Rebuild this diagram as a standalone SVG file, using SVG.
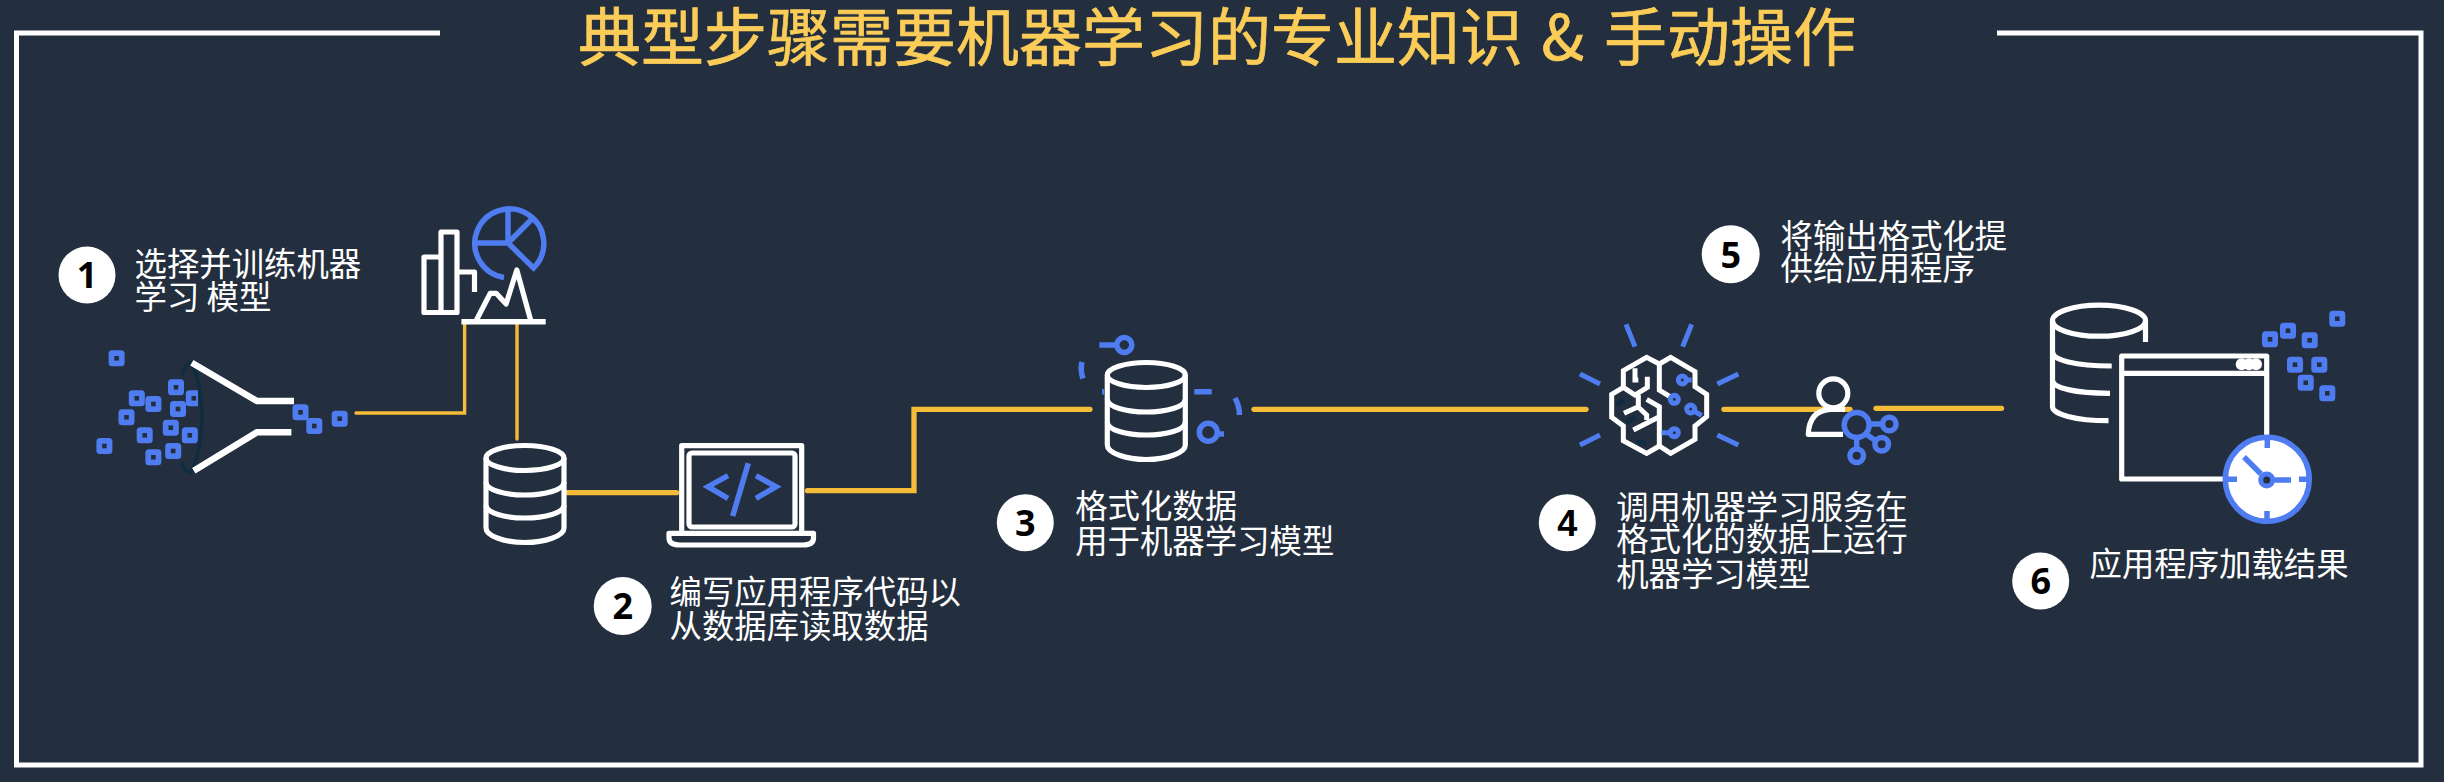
<svg xmlns="http://www.w3.org/2000/svg" width="2444" height="782" viewBox="0 0 2444 782">
<style>
.frame{fill:none;stroke:#fff;stroke-width:5}
.conn{fill:none;stroke:#f5bc3a;stroke-linecap:round;stroke-linejoin:miter}
.w{fill:none;stroke:#fff;stroke-width:5.2;stroke-linejoin:round}
.b{fill:none;stroke:#4f7cf0;stroke-width:5.5}
.w15{stroke-width:15;stroke-linejoin:miter}
.b15{stroke-width:15}
.dk{fill:none;stroke:#0f2d42}
.badge{fill:#fff}
.num{font-family:"Noto Sans","Open Sans",sans-serif;font-weight:700;font-size:36px;fill:#000;text-anchor:middle}
.lbl{font-family:"Noto Sans CJK SC","Noto Sans",sans-serif;font-size:32.4px;fill:#fff}
.title{font-family:"Noto Sans CJK SC","Noto Sans",sans-serif;font-size:63px;fill:#fbcd58;stroke:#fbcd58;stroke-width:0.7}
</style>
<defs>
<g id="bit"><rect x="-8" y="-8" width="16" height="16" rx="3.5" fill="#4f7cf0"/><rect x="-2.3" y="-2.3" width="4.6" height="4.6" fill="#232f3e"/></g>
<g id="db" class="w">
<ellipse cx="0" cy="0" rx="39" ry="12.5"/>
<path d="M-39,0V70C-39,78 -20,84.5 0,84.5S39,78 39,70V0"/>
<path d="M-39,24C-39,32 -20,37 0,37S39,32 39,24"/>
<path d="M-39,47C-39,55 -20,60 0,60S39,55 39,47"/>
</g>
</defs>
<rect width="2444" height="782" fill="#232f3e"/>
<path class="frame" d="M440,33H16.500V765H2421V33H1997"/>
<text id="title" class="title" x="578" y="60">典型步骤需要机器学习的专业知识 <tspan dx="4">&amp;</tspan> <tspan x="1604">手动操作</tspan></text>

<g id="connectors">
<path class="conn" stroke-width="3.4" d="M356,413H464.600V323"/>
<path class="conn" stroke-width="3.4" d="M517,324V439"/>
<path class="conn" stroke-width="5.300" d="M566,492.700H676.500"/>
<path class="conn" stroke-width="5.300" d="M807.500,490.700H914V409.300H1090"/>
<path class="conn" stroke-width="5.300" d="M1254,409.300H1586"/>
<path class="conn" stroke-width="5.300" d="M1724,409.300H1850"/>
<path class="conn" stroke-width="5.300" d="M1876,408.300H2001.500"/>
</g>

<g id="step1-label">
<circle class="badge" cx="87" cy="275" r="28.500"/><text class="num" x="87" y="288">1</text>
<text class="lbl" x="134.500" y="275.500">选择并训练机器</text><text class="lbl" x="134.500" y="309">学习 模型</text>
</g>
<g id="funnel">
<use href="#bit" x="116.600" y="358.300"/><use href="#bit" x="176" y="387.300"/><use href="#bit" x="193.800" y="398.300"/>
<use href="#bit" x="136.800" y="398.300"/><use href="#bit" x="153.400" y="404"/><use href="#bit" x="178" y="409"/>
<use href="#bit" x="126.500" y="417.300"/><use href="#bit" x="170.800" y="427.700"/><use href="#bit" x="144.700" y="435.300"/>
<use href="#bit" x="189.800" y="435.300"/><use href="#bit" x="104.400" y="446"/><use href="#bit" x="173.200" y="451"/>
<use href="#bit" x="153.400" y="457.300"/><use href="#bit" x="300.500" y="412.300"/><use href="#bit" x="314.300" y="426"/><use href="#bit" x="339.700" y="418.700"/>
<path fill="#232f3e" d="M198,375H208V465H198Z"/>
<path class="dk" stroke-width="3.500" d="M191,362Q202,385 202,418Q202,450 191,473"/>
<path class="dk" stroke-width="3.500" d="M191,362Q183,366 182,376M191,473Q183,470 182,462"/>
<path fill="none" stroke="#fff" stroke-width="6.500" d="M191.800,362.700L257,401H294M193.800,470.700L257,432.300H291.400"/>
</g>
<g id="charts">
<path class="w" d="M441,311V232H457V312.500H424V257H441M457,272H474.500V292"/>
<path class="b" d="M504,277.500A34.500,34.500 0 1 1 533.500,268L508,243V209M508,243H475.500M508,243L534,217"/>
<path class="w" stroke-linejoin="miter" d="M476.500,320L490.300,293.300H496.200L506.100,304L516.800,270L530.600,320"/>
<path fill="none" stroke="#fff" stroke-width="5.500" d="M461.400,321.700H545.700"/>
</g>
<g id="db-source"><use href="#db" x="525" y="458"/></g>
<g id="laptop">
<path class="w" d="M681.700,533V445.700H801.700V533"/>
<rect class="w" x="689" y="453" width="106" height="74" rx="3"/>
<path class="w" d="M669,533.300H813.500V538Q813.500,545 803,545H680Q669,545 669,538Z"/>
<path class="b" d="M728,475.700L708,486.700L728,498.300M748.300,463.300L732.700,516M756,475.700L776,486.700L756,498.300"/>
</g>
<g id="step2-label">
<circle class="badge" cx="622.700" cy="606" r="29"/><text class="num" x="622.700" y="619">2</text>
<text class="lbl" x="669.500" y="603.500">编写应用程序代码以</text><text class="lbl" x="669.500" y="637.500">从数据库读取数据</text>
</g>
<g id="db-format">
<use href="#db" x="1146.300" y="375"/>
<path class="b" d="M1099.300,345H1117M1082,362Q1080,370 1083,378.500M1102,391.700H1104M1194.300,391.700H1211.700M1235,398Q1239.500,406 1239.500,415M1216,434H1224"/>
<circle class="b" cx="1124.300" cy="345" r="7.500"/><circle class="b" cx="1208.300" cy="432.300" r="9"/>
</g>
<g id="step3-label">
<circle class="badge" cx="1025.300" cy="522.700" r="28.500"/><text class="num" x="1025.300" y="536">3</text>
<text class="lbl" x="1075.200" y="517.500">格式化数据</text><text class="lbl" x="1075.200" y="552.500">用于机器学习模型</text>
</g>
<g id="brain" transform="translate(1500,300) scale(0.33333)">
<path class="dk" stroke-width="15" d="M350,315L372,300M380,368L405,350M410,425L438,430"/>
<path class="w w15" d="M478,192L440,172L370,212V262L335,283V352L370,378V422L440,460L478,438L512,460L585,418V378L620,350V283L585,260V215L512,172L478,192V270L510,290"/>
<path class="w w15" d="M405,205V240H415M442,230V262L405,285L370,262M415,285V320L372,340M408,315L440,345V360M400,390L478,350M440,298L478,320V438"/>
<path class="b b15" d="M575,240H555M585,335L605,347M485,398H510"/>
<g class="b b15"><circle cx="547" cy="240" r="12"/><circle cx="523" cy="298" r="12"/><circle cx="572" cy="327" r="12"/><circle cx="523" cy="398" r="12"/></g>
<path class="b b15" d="M378,73L405,140M575,73L548,140M240,222L300,252M715,222L652,252M240,435L300,405M715,435L652,405"/>
</g>
<g id="step4-label">
<circle class="badge" cx="1567.300" cy="522.700" r="28.500"/><text class="num" style="font-family:'Liberation Sans',sans-serif" x="1567.300" y="535.500">4</text>
<text class="lbl" x="1616.200" y="519">调用机器学习服务在</text><text class="lbl" x="1616.200" y="551">格式化的数据上运行</text><text class="lbl" x="1616.200" y="585.500">机器学习模型</text>
</g>
<g id="person">
<circle class="w" cx="1833.300" cy="393.300" r="14.500"/>
<path class="w" stroke-linejoin="miter" d="M1845,409.300H1830Q1809,411 1808.300,434.300H1843"/>
<path class="b" d="M1869,424H1882M1866,434L1876,441M1856.700,438V448"/>
<circle class="b" cx="1856.700" cy="425" r="12.500"/><circle class="b" cx="1889.300" cy="424" r="6.800"/><circle class="b" cx="1881.700" cy="444.300" r="6.800"/><circle class="b" cx="1856.700" cy="455.700" r="6.800"/>
</g>
<g id="step5-label">
<circle class="badge" cx="1730.700" cy="254.300" r="29"/><text class="num" x="1730.700" y="267.500">5</text>
<text class="lbl" x="1780.500" y="247.500">将输出格式化提</text><text class="lbl" x="1780.500" y="280">供给应用程序</text>
</g>
<g id="app">
<g class="w">
<ellipse cx="2099" cy="320.700" rx="46.500" ry="15.500"/>
<path d="M2145.500,321V342M2052.500,321V406.700C2052.500,414 2075,420.700 2108.500,420.700M2052.500,351.700C2052.500,360 2075,366 2111.700,366M2052.500,380C2052.500,388 2075,393.300 2110,393.300"/>
<path d="M2266.700,440V356H2121.700V479H2240M2121.700,373.300H2266.700"/>
</g>
<g fill="#fff"><circle cx="2241.700" cy="364.300" r="6"/><circle cx="2249" cy="364.300" r="6"/><circle cx="2256" cy="364.300" r="6"/></g>
<use href="#bit" x="2270" y="339.300"/><use href="#bit" x="2288" y="330.700"/><use href="#bit" x="2309.700" y="340.300"/><use href="#bit" x="2337.300" y="318.700"/><use href="#bit" x="2295" y="364.700"/><use href="#bit" x="2319.300" y="364.700"/><use href="#bit" x="2305.700" y="382.700"/><use href="#bit" x="2327.300" y="393.300"/>
<circle cx="2267.300" cy="479.300" r="42" fill="#fff" stroke="#4f7cf0" stroke-width="5.500"/>
<path class="b" d="M2267.300,438V448M2267,511V520M2228,479.300H2237M2299,479.300H2308M2244,457L2261,474M2275,480H2291"/>
<circle cx="2266.700" cy="480" r="6" fill="#232f3e" stroke="#4f7cf0" stroke-width="5"/>
</g>
<g id="step6-label">
<circle class="badge" cx="2040.700" cy="581" r="28.500"/><text class="num" x="2040.700" y="594">6</text>
<text class="lbl" x="2089.500" y="575.500">应用程序加载结果</text>
</g>
</svg>
